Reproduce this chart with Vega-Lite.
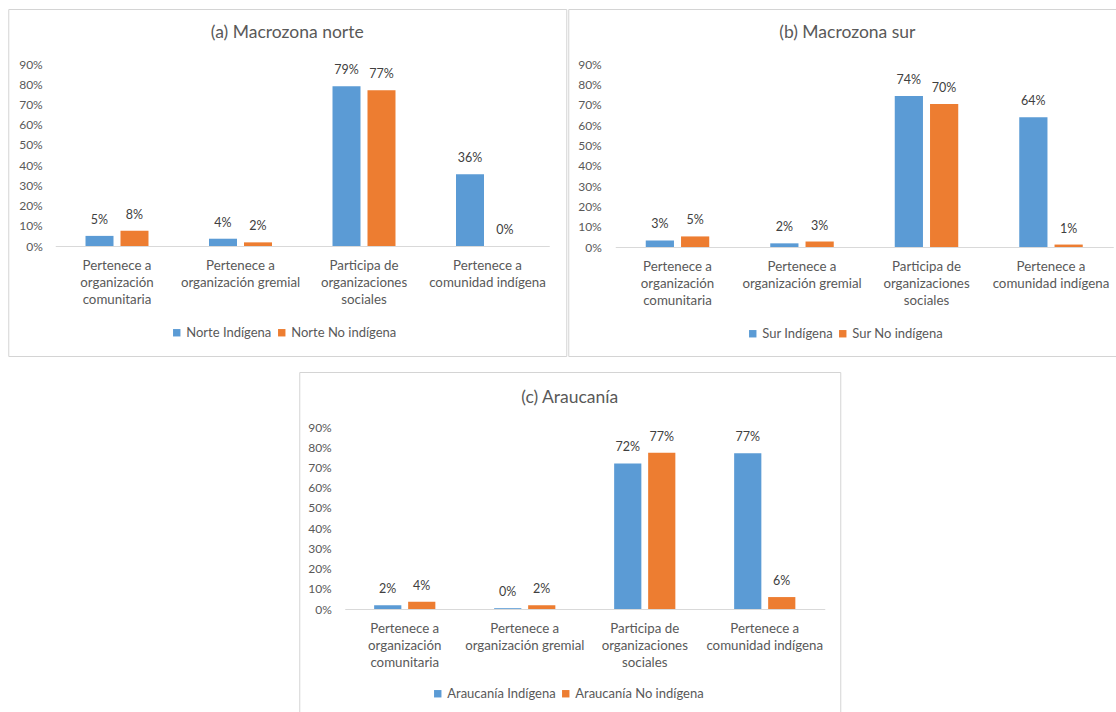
{
  "$schema": "https://vega.github.io/schema/vega-lite/v6.json",
  "padding": {"left": 7, "top": 8, "right": 0, "bottom": 0},
  "background": "white",
  "data": {"values": [
    {"panel": "a", "cat": "Pertenece a|organización|comunitaria", "serie": "Norte Indígena", "value": 0.05},
    {"panel": "a", "cat": "Pertenece a|organización|comunitaria", "serie": "Norte No indígena", "value": 0.076},
    {"panel": "a", "cat": "Pertenece a|organización gremial", "serie": "Norte Indígena", "value": 0.036},
    {"panel": "a", "cat": "Pertenece a|organización gremial", "serie": "Norte No indígena", "value": 0.018},
    {"panel": "a", "cat": "Participa de|organizaciones|sociales", "serie": "Norte Indígena", "value": 0.79},
    {"panel": "a", "cat": "Participa de|organizaciones|sociales", "serie": "Norte No indígena", "value": 0.77},
    {"panel": "a", "cat": "Pertenece a|comunidad indígena", "serie": "Norte Indígena", "value": 0.355},
    {"panel": "a", "cat": "Pertenece a|comunidad indígena", "serie": "Norte No indígena", "value": 0.0},
    {"panel": "b", "cat": "Pertenece a|organización|comunitaria", "serie": "Sur Indígena", "value": 0.032},
    {"panel": "b", "cat": "Pertenece a|organización|comunitaria", "serie": "Sur No indígena", "value": 0.052},
    {"panel": "b", "cat": "Pertenece a|organización gremial", "serie": "Sur Indígena", "value": 0.018},
    {"panel": "b", "cat": "Pertenece a|organización gremial", "serie": "Sur No indígena", "value": 0.027},
    {"panel": "b", "cat": "Participa de|organizaciones|sociales", "serie": "Sur Indígena", "value": 0.743},
    {"panel": "b", "cat": "Participa de|organizaciones|sociales", "serie": "Sur No indígena", "value": 0.703},
    {"panel": "b", "cat": "Pertenece a|comunidad indígena", "serie": "Sur Indígena", "value": 0.638},
    {"panel": "b", "cat": "Pertenece a|comunidad indígena", "serie": "Sur No indígena", "value": 0.012},
    {"panel": "c", "cat": "Pertenece a|organización|comunitaria", "serie": "Araucanía Indígena", "value": 0.018},
    {"panel": "c", "cat": "Pertenece a|organización|comunitaria", "serie": "Araucanía No indígena", "value": 0.036},
    {"panel": "c", "cat": "Pertenece a|organización gremial", "serie": "Araucanía Indígena", "value": 0.004},
    {"panel": "c", "cat": "Pertenece a|organización gremial", "serie": "Araucanía No indígena", "value": 0.018},
    {"panel": "c", "cat": "Participa de|organizaciones|sociales", "serie": "Araucanía Indígena", "value": 0.72},
    {"panel": "c", "cat": "Participa de|organizaciones|sociales", "serie": "Araucanía No indígena", "value": 0.773},
    {"panel": "c", "cat": "Pertenece a|comunidad indígena", "serie": "Araucanía Indígena", "value": 0.77},
    {"panel": "c", "cat": "Pertenece a|comunidad indígena", "serie": "Araucanía No indígena", "value": 0.059}
  ]},
  "vconcat": [
    {
      "hconcat": [
        {
          "width": 558, "height": 347,
          "title": {"text": "(a) Macrozona norte", "offset": -41, "baseline": "middle", "frame": "group", "anchor": "middle"},
          "transform": [{"filter": "datum.panel == 'a'"}],
          "encoding": {
            "x": {"field": "cat", "type": "nominal", "title": null,
              "sort": ["Pertenece a|organización|comunitaria", "Pertenece a|organización gremial", "Participa de|organizaciones|sociales", "Pertenece a|comunidad indígena"],
              "scale": {"range": [47, 541], "paddingInner": 0.49, "paddingOuter": 0.245},
              "axis": {"offset": -110}},
            "xOffset": {"field": "serie", "type": "nominal", "sort": ["Norte Indígena", "Norte No indígena"], "scale": {"paddingInner": 0.2}},
            "y": {"field": "value", "type": "quantitative", "title": null,
              "scale": {"domain": [0, 0.9], "range": [237, 55]},
              "axis": {"offset": -44}}
          },
          "layer": [
            {"mark": {"type": "bar"},
             "encoding": {"color": {"field": "serie", "type": "nominal",
               "scale": {"domain": ["Norte Indígena", "Norte No indígena"], "range": ["#5B9BD5", "#ED7D31"]},
               "legend": {"orient": "none", "legendX": 162, "legendY": 317}}}},
            {"mark": {"type": "text", "dy": -16, "baseline": "middle", "fontSize": 12.5, "color": "#404040", "font": "Lato"},
             "encoding": {"text": {"field": "value", "type": "quantitative", "format": ".0%"}}}
          ]
        },
        {
          "width": 563, "height": 347,
          "title": {"text": "(b) Macrozona sur", "offset": -41, "baseline": "middle", "frame": "group", "anchor": "start", "dx": 211},
          "transform": [{"filter": "datum.panel == 'b'"}],
          "encoding": {
            "x": {"field": "cat", "type": "nominal", "title": null,
              "sort": ["Pertenece a|organización|comunitaria", "Pertenece a|organización gremial", "Participa de|organizaciones|sociales", "Pertenece a|comunidad indígena"],
              "scale": {"range": [47, 545], "paddingInner": 0.49, "paddingOuter": 0.245},
              "axis": {"offset": -109}},
            "xOffset": {"field": "serie", "type": "nominal", "sort": ["Sur Indígena", "Sur No indígena"], "scale": {"paddingInner": 0.2}},
            "y": {"field": "value", "type": "quantitative", "title": null,
              "scale": {"domain": [0, 0.9], "range": [238, 55]},
              "axis": {"offset": -43}}
          },
          "layer": [
            {"mark": {"type": "bar"},
             "encoding": {"color": {"field": "serie", "type": "nominal",
               "scale": {"domain": ["Sur Indígena", "Sur No indígena"], "range": ["#5B9BD5", "#ED7D31"]},
               "legend": {"orient": "none", "legendX": 178, "legendY": 318}}}},
            {"mark": {"type": "text", "dy": -16, "baseline": "middle", "fontSize": 12.5, "color": "#404040", "font": "Lato"},
             "encoding": {"text": {"field": "value", "type": "quantitative", "format": ".0%"}}}
          ]
        }
      ],
      "spacing": 2,
      "bounds": "flush",
      "resolve": {"scale": {"color": "independent", "x": "independent", "y": "independent", "xOffset": "independent"}, "legend": {"color": "independent"}}
    },
    {
      "width": 541, "height": 347,
      "title": {"text": "(c) Araucanía", "offset": -43, "baseline": "middle", "frame": "group", "anchor": "middle"},
      "transform": [{"filter": "datum.panel == 'c'"}],
      "encoding": {
        "x": {"field": "cat", "type": "nominal", "title": null,
          "sort": ["Pertenece a|organización|comunitaria", "Pertenece a|organización gremial", "Participa de|organizaciones|sociales", "Pertenece a|comunidad indígena"],
          "scale": {"range": [45.5, 525.5], "paddingInner": 0.49, "paddingOuter": 0.245},
          "axis": {"offset": -110}},
        "xOffset": {"field": "serie", "type": "nominal", "sort": ["Araucanía Indígena", "Araucanía No indígena"], "scale": {"paddingInner": 0.2}},
        "y": {"field": "value", "type": "quantitative", "title": null,
          "scale": {"domain": [0, 0.9], "range": [237, 55]},
          "axis": {"offset": -42}}
      },
      "layer": [
        {"mark": {"type": "bar"},
         "encoding": {"color": {"field": "serie", "type": "nominal",
           "scale": {"domain": ["Araucanía Indígena", "Araucanía No indígena"], "range": ["#5B9BD5", "#ED7D31"]},
           "legend": {"orient": "none", "legendX": 132, "legendY": 315}}}},
        {"mark": {"type": "text", "dy": -16, "baseline": "middle", "fontSize": 12.5, "color": "#404040", "font": "Lato"},
         "encoding": {"text": {"field": "value", "type": "quantitative", "format": ".0%"}}}
      ]
    }
  ],
  "spacing": 14,
  "center": true,
  "resolve": {"scale": {"color": "independent", "x": "independent", "y": "independent", "xOffset": "independent"}, "legend": {"color": "independent"}},
  "config": {
    "font": "Lato",
    "view": {"stroke": "#d4d4d4", "strokeWidth": 1},
    "title": {"fontSize": 17.5, "fontWeight": "normal", "color": "#595959", "font": "Lato"},
    "axis": {"labelFont": "Lato", "labelFontSize": 12, "labelColor": "#595959", "ticks": false, "tickSize": 0, "grid": false},
    "axisX": {"domain": true, "domainColor": "#d9d9d9", "domainWidth": 1, "labelAngle": 0, "labelPadding": 12, "labelFontSize": 13.3, "labelBaseline": "top", "labelLineHeight": 17, "labelExpr": "split(datum.value, '|')", "labelLimit": 200},
    "axisY": {"domain": false, "format": ".0%", "values": [0, 0.1, 0.2, 0.3, 0.4, 0.5, 0.6, 0.7, 0.8, 0.9], "labelPadding": 10},
    "legend": {"direction": "horizontal", "title": null, "symbolType": "square", "symbolSize": 55, "symbolStrokeWidth": 0, "labelFontSize": 13, "labelColor": "#595959", "labelFont": "Lato", "columnPadding": 3, "labelOffset": 3, "symbolOffset": 0}
  }
}
